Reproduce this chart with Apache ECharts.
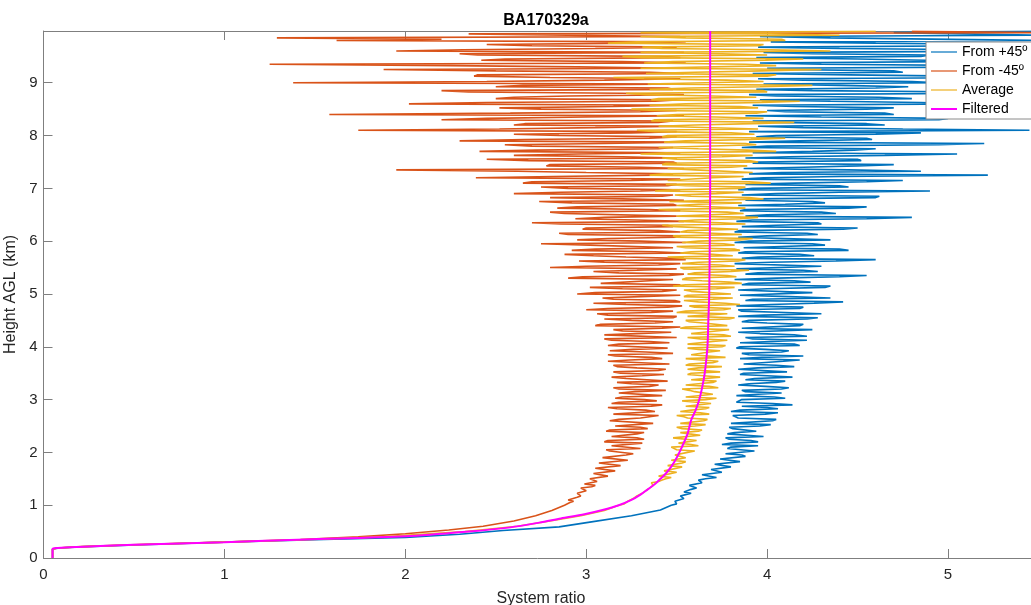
<!DOCTYPE html>
<html>
<head>
<meta charset="utf-8">
<title>BA170329a</title>
<script src="https://cdn.jsdelivr.net/npm/echarts@6/dist/echarts.min.js"></script>
<style>
  html, body { margin: 0; padding: 0; background: #ffffff; }
  #chart { width: 1031px; height: 605px; }
</style>
</head>
<body>
<div id="chart"></div>
<script>
// ---- Profile data: system ratio (x) against height above ground level in km (y) ----

// Near-ground part of each profile, listed with its own heights (km)
const plusLowHeights  = [0, 0.17, 0.19, 0.21, 0.25, 0.30, 0.35, 0.39, 0.45, 0.52, 0.59, 0.68, 0.80, 0.91];
const plusLowRatio    = [0.05, 0.05, 0.09, 0.20, 0.55, 1.00, 1.55, 2.00, 2.30, 2.54, 2.85, 3.02, 3.25, 3.41];

const minusLowHeights = [0, 0.17, 0.19, 0.21, 0.25, 0.30, 0.35, 0.40, 0.46, 0.53, 0.60, 0.70, 0.80, 0.90];
const minusLowRatio   = [0.05, 0.05, 0.08, 0.18, 0.48, 1.00, 1.42, 1.74, 2.00, 2.24, 2.43, 2.60, 2.72, 2.81];

const avgLowHeights   = [0, 0.17, 0.19, 0.21, 0.25, 0.30, 0.35, 0.40, 0.50, 0.60, 0.70, 0.80, 0.90];
const avgLowRatio     = [0.05, 0.05, 0.08, 0.19, 0.51, 1.00, 1.48, 1.87, 2.33, 2.62, 2.80, 2.97, 3.10];

// Range-resolved part above 1 km. Samples come in two interleaved sets:
// set A at 1.000, 1.050, ... 9.950 km and set B at 1.025, 1.075, ... 9.975 km.
const UPPER_START = 1.0;
const UPPER_STEP = 0.05;
const HALF_STEP = 0.025;

const plus45A = [
  3.47, 3.50, 3.49, 3.53, 3.55, 3.54, 3.58, 3.60, 3.58, 3.63,
  3.66, 3.72, 3.65, 3.76, 3.68, 3.80, 3.71, 3.84, 3.73, 3.86,
  3.77, 3.92, 3.80, 3.75, 3.95, 3.79, 3.98, 3.78, 3.94, 3.81,
  3.96, 3.80, 4.03, 3.84, 3.81, 4.06, 3.85, 4.00, 4.14, 3.83,
  3.86, 4.04, 3.95, 3.88, 4.08, 3.99, 3.90, 4.10, 3.93, 4.00,
  3.87, 4.12, 3.95, 4.05, 3.88, 4.18, 3.97, 3.90, 4.08, 3.99,
  3.85, 4.15, 4.02, 3.92, 4.22, 3.96, 4.05, 3.86, 4.18, 4.00,
  3.90, 4.28, 3.98, 4.10, 3.84, 4.20, 4.02, 4.42, 3.92, 4.12,
  3.86, 4.25, 4.00, 4.35, 3.90, 4.15, 4.05, 4.55, 3.95, 4.20,
  3.82, 4.30, 4.02, 4.60, 3.95, 4.18, 3.88, 4.40, 4.08, 4.25,
  3.90, 4.35, 4.00, 4.22, 3.85, 4.50, 4.05, 4.28, 3.92, 4.80,
  4.00, 4.30, 3.88, 4.55, 4.10, 4.25, 3.95, 4.62, 4.05, 4.90,
  3.92, 4.40, 4.15, 4.75, 3.98, 5.22, 4.08, 4.45, 4.20, 4.70,
  3.95, 4.50, 4.12, 5.05, 4.25, 4.60, 4.00, 5.20, 4.18, 4.55,
  4.05, 4.85, 5.45, 4.20, 4.65, 4.02, 4.95, 4.30, 4.70, 4.10,
  4.55, 4.15, 5.10, 4.35, 4.80, 4.05, 5.30, 4.25, 4.60, 4.40,
  4.95, 4.20, 5.50, 4.45, 4.75, 4.10, 5.35, 4.30, 5.00, 4.50,
  4.85, 4.25, 5.50, 4.40, 5.20, 4.60, 5.50, 4.35, 5.50, 4.70
];
const plus45B = [
  3.50, 3.49, 3.54, 3.52, 3.58, 3.55, 3.61, 3.57, 3.64, 3.62,
  3.72, 3.64, 3.75, 3.69, 3.80, 3.71, 3.85, 3.74, 3.88, 3.77,
  3.93, 3.78, 3.95, 3.80, 3.91, 3.77, 3.97, 3.82, 3.94, 3.79,
  4.02, 3.81, 4.05, 3.84, 3.99, 3.80, 4.06, 3.86, 4.03, 3.82,
  4.10, 3.83, 4.08, 3.86, 4.12, 3.84, 4.05, 3.88, 4.14, 3.85,
  4.11, 3.84, 4.15, 3.87, 4.09, 3.85, 4.20, 3.86, 4.12, 3.83,
  4.18, 3.85, 4.22, 3.88, 4.15, 3.84, 4.25, 3.87, 4.20, 3.86,
  4.22, 3.84, 4.30, 3.86, 4.18, 3.83, 4.26, 3.88, 4.35, 3.85,
  4.25, 3.84, 4.32, 3.86, 4.24, 3.82, 4.40, 3.88, 4.28, 3.83,
  4.30, 3.82, 4.38, 3.86, 4.26, 3.84, 4.45, 3.87, 4.32, 3.82,
  4.35, 3.84, 4.28, 3.82, 4.42, 3.86, 4.30, 3.83, 4.55, 3.88,
  4.38, 3.85, 4.45, 3.84, 4.32, 3.88, 4.60, 3.86, 4.40, 3.84,
  4.45, 3.88, 4.55, 3.86, 4.40, 3.90, 4.85, 3.87, 4.50, 3.92,
  4.52, 3.88, 4.65, 3.92, 4.48, 3.86, 4.95, 3.90, 4.58, 3.94,
  4.60, 3.90, 4.75, 3.95, 4.55, 3.92, 5.00, 3.88, 4.65, 4.00,
  4.70, 3.92, 4.85, 3.96, 4.62, 3.90, 5.15, 3.94, 4.78, 3.98,
  4.80, 3.95, 5.05, 3.92, 4.70, 4.00, 5.25, 3.96, 4.88, 3.94,
  4.90, 3.98, 5.20, 3.95, 5.40, 4.02, 5.50, 3.96, 5.50, 5.50
];

const minus45A = [
  2.88, 2.91, 2.90, 2.95, 2.97, 2.94, 3.01, 3.03, 2.99, 3.06,
  3.02, 3.12, 3.04, 3.16, 3.05, 3.19, 3.07, 3.23, 3.09, 3.22,
  3.26, 3.11, 3.30, 3.13, 3.10, 3.32, 3.14, 3.28, 3.11, 3.34,
  3.16, 3.37, 3.13, 3.30, 3.40, 3.15, 3.33, 3.12, 3.42, 3.18,
  3.32, 3.20, 3.42, 3.27, 3.18, 3.35, 3.25, 3.45, 3.22, 3.31,
  3.19, 3.40, 3.28, 3.15, 3.46, 3.24, 3.36, 3.12, 3.33, 3.26,
  3.44, 3.18, 3.35, 3.10, 3.50, 3.28, 3.20, 3.42, 3.05, 3.38,
  3.25, 3.48, 3.12, 3.36, 3.00, 3.45, 3.22, 3.52, 3.15, 3.30,
  2.95, 3.42, 3.20, 3.50, 3.08, 3.35, 2.90, 3.46, 3.18, 3.28,
  2.80, 3.40, 3.10, 3.55, 3.22, 2.88, 3.38, 3.05, 3.48, 2.75,
  3.30, 3.12, 3.52, 2.85, 3.40, 3.00, 3.45, 2.70, 3.28, 3.10,
  3.50, 2.80, 3.35, 2.95, 3.48, 2.74, 3.20, 3.42, 2.60, 3.30,
  2.90, 3.45, 2.65, 3.25, 2.39, 3.38, 3.00, 1.95, 3.30, 2.80,
  3.48, 2.45, 3.20, 2.95, 2.41, 3.40, 2.70, 3.10, 2.30, 3.35,
  2.85, 3.25, 1.74, 3.05, 2.60, 3.40, 2.20, 3.00, 1.58, 3.30,
  2.75, 3.15, 2.02, 3.38, 2.50, 2.90, 3.20, 2.20, 3.45, 2.65,
  1.38, 3.10, 2.80, 2.40, 3.35, 1.88, 2.95, 1.25, 3.20, 2.55,
  3.40, 2.30, 1.95, 3.05, 2.70, 3.30, 1.62, 1.29, 2.90, 5.50
];
const minus45B = [
  2.87, 2.93, 2.91, 2.97, 2.95, 3.00, 2.97, 3.05, 3.00, 3.07,
  3.01, 3.12, 3.03, 3.16, 3.06, 3.20, 3.08, 3.24, 3.10, 3.26,
  3.13, 3.30, 3.14, 3.31, 3.12, 3.28, 3.15, 3.32, 3.13, 3.30,
  3.16, 3.37, 3.18, 3.35, 3.15, 3.38, 3.17, 3.36, 3.14, 3.39,
  3.16, 3.42, 3.18, 3.44, 3.15, 3.40, 3.17, 3.45, 3.14, 3.43,
  3.15, 3.44, 3.17, 3.46, 3.12, 3.42, 3.16, 3.48, 3.13, 3.45,
  3.12, 3.46, 3.14, 3.50, 3.10, 3.47, 3.15, 3.52, 3.08, 3.48,
  3.10, 3.50, 3.06, 3.48, 3.12, 3.53, 3.04, 3.49, 3.09, 3.52,
  3.05, 3.50, 3.02, 3.52, 3.08, 3.48, 2.98, 3.54, 3.04, 3.50,
  3.00, 3.52, 2.96, 3.50, 3.04, 3.54, 2.92, 3.48, 3.02, 3.55,
  2.95, 3.50, 2.90, 3.52, 2.98, 3.48, 2.86, 3.54, 2.94, 3.50,
  2.88, 3.52, 2.84, 3.50, 2.92, 3.54, 2.80, 3.48, 2.86, 3.52,
  2.75, 3.50, 2.70, 3.52, 2.82, 3.48, 2.62, 3.54, 2.78, 3.50,
  2.68, 3.50, 2.60, 3.52, 2.72, 3.48, 2.55, 3.54, 2.66, 3.50,
  2.60, 3.50, 2.52, 3.52, 2.66, 3.48, 2.45, 3.54, 2.58, 3.50,
  2.52, 3.52, 2.45, 3.50, 2.60, 3.54, 2.35, 3.48, 2.50, 3.52,
  2.45, 3.52, 2.38, 3.54, 2.50, 3.50, 2.25, 3.55, 2.42, 3.52,
  2.40, 3.54, 2.32, 3.50, 2.45, 3.55, 2.20, 3.52, 2.35, 4.80
];

const averageA = [
  3.18, 3.21, 3.24, 3.27, 3.29, 3.31, 3.34, 3.36, 3.38, 3.40,
  3.44, 3.40, 3.47, 3.43, 3.50, 3.45, 3.53, 3.47, 3.55, 3.49,
  3.56, 3.50, 3.47, 3.58, 3.52, 3.60, 3.49, 3.57, 3.62, 3.53,
  3.60, 3.52, 3.65, 3.56, 3.50, 3.63, 3.58, 3.68, 3.54, 3.61,
  3.66, 3.55, 3.70, 3.60, 3.53, 3.68, 3.62, 3.72, 3.57, 3.65,
  3.58, 3.74, 3.62, 3.55, 3.70, 3.64, 3.77, 3.58, 3.68, 3.62,
  3.75, 3.56, 3.70, 3.63, 3.80, 3.58, 3.72, 3.52, 3.78, 3.65,
  3.55, 3.82, 3.66, 3.50, 3.76, 3.60, 3.85, 3.62, 3.70, 3.54,
  3.80, 3.58, 3.72, 3.48, 3.86, 3.64, 3.55, 3.78, 3.60, 3.90,
  3.52, 3.74, 3.62, 3.88, 3.45, 3.70, 3.58, 3.82, 3.50, 3.76,
  3.62, 3.92, 3.48, 3.70, 3.56, 3.85, 3.42, 3.74, 3.60, 3.95,
  3.50, 3.78, 3.40, 3.88, 3.62, 3.46, 3.98, 3.58, 3.72, 3.38,
  3.85, 3.55, 4.02, 3.45, 3.70, 3.35, 3.92, 3.60, 3.80, 3.42,
  3.95, 3.50, 3.75, 3.30, 4.05, 3.62, 3.40, 3.88, 3.55, 4.10,
  3.45, 3.80, 3.28, 3.95, 3.60, 4.15, 3.38, 3.72, 3.50, 4.00,
  3.25, 3.85, 3.55, 4.18, 3.40, 3.70, 3.22, 3.98, 3.58, 4.25,
  3.35, 3.78, 3.15, 4.05, 3.60, 4.30, 3.30, 3.88, 3.48, 4.20,
  3.20, 3.75, 4.35, 3.42, 3.95, 3.12, 4.10, 3.55, 4.40, 3.30
];
const averageB = [
  3.21, 3.23, 3.26, 3.28, 3.31, 3.33, 3.35, 3.37, 3.36, 3.42,
  3.47, 3.40, 3.50, 3.44, 3.53, 3.46, 3.55, 3.48, 3.56, 3.50,
  3.60, 3.49, 3.62, 3.51, 3.61, 3.48, 3.63, 3.52, 3.64, 3.50,
  3.66, 3.53, 3.67, 3.54, 3.68, 3.52, 3.66, 3.55, 3.69, 3.53,
  3.72, 3.56, 3.71, 3.57, 3.73, 3.55, 3.70, 3.58, 3.74, 3.56,
  3.74, 3.56, 3.75, 3.57, 3.73, 3.55, 3.76, 3.58, 3.74, 3.56,
  3.77, 3.57, 3.78, 3.56, 3.76, 3.58, 3.79, 3.55, 3.77, 3.57,
  3.79, 3.56, 3.78, 3.55, 3.80, 3.57, 3.77, 3.54, 3.81, 3.56,
  3.80, 3.54, 3.82, 3.55, 3.79, 3.53, 3.83, 3.56, 3.80, 3.54,
  3.82, 3.53, 3.84, 3.54, 3.81, 3.52, 3.85, 3.55, 3.82, 3.53,
  3.85, 3.50, 3.86, 3.52, 3.84, 3.49, 3.88, 3.51, 3.85, 3.50,
  3.87, 3.48, 3.88, 3.50, 3.86, 3.47, 3.90, 3.49, 3.87, 3.48,
  3.88, 3.44, 3.90, 3.46, 3.87, 3.43, 3.92, 3.45, 3.89, 3.44,
  3.90, 3.42, 3.92, 3.44, 3.89, 3.40, 3.94, 3.43, 3.91, 3.42,
  3.93, 3.38, 3.95, 3.40, 3.92, 3.36, 3.98, 3.39, 3.94, 3.37,
  3.95, 3.35, 3.97, 3.36, 3.94, 3.33, 4.00, 3.35, 3.96, 3.34,
  3.98, 3.32, 4.00, 3.33, 3.97, 3.30, 4.05, 3.32, 3.99, 3.31,
  4.00, 3.30, 4.02, 3.31, 3.98, 3.28, 4.08, 3.30, 4.02, 4.60
];

// Smoothed (filtered) profile
const filteredHeights = [0, 0.17, 0.19, 0.21, 0.25, 0.30, 0.35, 0.41, 0.50, 0.58, 0.67, 0.75, 0.83, 0.91,
  1.00, 1.10, 1.20, 1.30, 1.40, 1.50, 1.60, 1.73, 1.90, 2.11, 2.35, 2.61, 2.80, 3.00, 3.25, 3.50,
  4.00, 4.50, 5.00, 6.00, 7.00, 8.00, 9.00, 9.98];
const filteredRatio = [0.05, 0.05, 0.08, 0.19, 0.50, 1.00, 1.45, 2.00, 2.35, 2.58, 2.74, 2.86, 2.99, 3.09,
  3.18, 3.25, 3.30, 3.34, 3.38, 3.41, 3.44, 3.47, 3.50, 3.53, 3.56, 3.58, 3.605, 3.625, 3.642, 3.655,
  3.67, 3.675, 3.68, 3.683, 3.685, 3.685, 3.685, 3.685];

const xTicks = [0, 1, 2, 3, 4, 5];
const yTicks = [0, 1, 2, 3, 4, 5, 6, 7, 8, 9];

// ---- Build [ratio, height] pairs ----
function pairs(heights, ratios) {
  return ratios.map((r, i) => [r, heights[i]]);
}
// merge the two interleaved sample sets in height order
function upperPairs(setA, setB) {
  const out = [];
  for (let i = 0; i < setA.length; i++) {
    const h = UPPER_START + i * UPPER_STEP;
    out.push([setA[i], +h.toFixed(3)]);
    out.push([setB[i], +(h + HALF_STEP).toFixed(3)]);
  }
  return out;
}
const plusData = pairs(plusLowHeights, plusLowRatio).concat(upperPairs(plus45A, plus45B));
const minusData = pairs(minusLowHeights, minusLowRatio).concat(upperPairs(minus45A, minus45B));
const avgData = pairs(avgLowHeights, avgLowRatio).concat(upperPairs(averageA, averageB));
const filteredData = pairs(filteredHeights, filteredRatio);

const FONT = '"Liberation Sans", Arial, Helvetica, sans-serif';
const AXIS_COLOR = '#7f7f7f';
const TEXT_COLOR = '#262626';

const chart = echarts.init(document.getElementById('chart'), null, { renderer: 'canvas' });

const xLabel = v => xTicks.includes(v) ? String(v) : '';
const yLabel = v => yTicks.includes(v) ? String(v) : '';

// thin horizontal bar used as the legend key, one per line weight
const keyThin = 'path://M0,0 H26 V1.2 H0 Z';
const keyThick = 'path://M0,0 H26 V2 H0 Z';

chart.setOption({
  animation: false,
  backgroundColor: '#ffffff',
  textStyle: { fontFamily: FONT },
  title: {
    text: 'BA170329a',
    left: 541,
    top: 8,
    textAlign: 'center',
    textStyle: { fontFamily: FONT, fontSize: 16, fontWeight: 'bold', color: '#000' }
  },
  grid: { left: 43.5, right: -7.5, top: 31, bottom: 47, outerBoundsMode: 'none', containLabel: false },
  legend: {
    orient: 'vertical',
    left: 926,
    top: 42,
    padding: [3, 90, 3, 5],
    itemWidth: 26,
    itemHeight: 14,
    itemGap: 5,
    backgroundColor: '#ffffff',
    borderColor: '#8a8a8a',
    borderWidth: 1,
    textStyle: { fontFamily: FONT, fontSize: 14, color: '#000' },
    data: [
      { name: 'From +45º', icon: keyThin },
      { name: 'From -45º', icon: keyThin },
      { name: 'Average', icon: keyThin },
      { name: 'Filtered', icon: keyThick }
    ]
  },
  xAxis: [
    {
      type: 'value', min: 0, max: 5.5, interval: 1,
      name: 'System ratio', nameLocation: 'middle', nameGap: 33,
      nameTextStyle: { fontFamily: FONT, fontSize: 16, color: TEXT_COLOR },
      axisLine: { show: true, onZero: false, lineStyle: { color: AXIS_COLOR, width: 1 } },
      axisTick: { show: true, inside: true, length: 9, lineStyle: { color: AXIS_COLOR } },
      axisLabel: { margin: 9, fontFamily: FONT, fontSize: 15, color: TEXT_COLOR, formatter: xLabel },
      splitLine: { show: false }
    },
    {
      type: 'value', min: 0, max: 5.5, interval: 1, position: 'top',
      axisLine: { show: true, onZero: false, lineStyle: { color: AXIS_COLOR, width: 1 } },
      axisTick: { show: true, inside: true, length: 9, lineStyle: { color: AXIS_COLOR } },
      axisLabel: { show: false },
      splitLine: { show: false }
    }
  ],
  yAxis: [
    {
      type: 'value', min: 0, max: 9.98, interval: 1,
      name: 'Height AGL (km)', nameLocation: 'middle', nameGap: 20, nameRotate: 90,
      nameTextStyle: { fontFamily: FONT, fontSize: 16, color: TEXT_COLOR },
      axisLine: { show: true, onZero: false, lineStyle: { color: AXIS_COLOR, width: 1 } },
      axisTick: { show: true, inside: true, length: 9, lineStyle: { color: AXIS_COLOR } },
      axisLabel: { margin: 6, fontFamily: FONT, fontSize: 15, color: TEXT_COLOR, formatter: yLabel },
      splitLine: { show: false }
    }
  ],
  series: [
    {
      name: 'From +45º', type: 'line', data: plusData, symbol: 'none',
      lineStyle: { color: '#0072BD', width: 1.6 }, itemStyle: { color: '#0072BD' }
    },
    {
      name: 'From -45º', type: 'line', data: minusData, symbol: 'none',
      lineStyle: { color: '#D95319', width: 1.6 }, itemStyle: { color: '#D95319' }
    },
    {
      name: 'Average', type: 'line', data: avgData, symbol: 'none',
      lineStyle: { color: '#EDB120', width: 1.6 }, itemStyle: { color: '#EDB120' }
    },
    {
      name: 'Filtered', type: 'line', data: filteredData, symbol: 'none', smooth: 0.3,
      lineStyle: { color: '#FF00FF', width: 2 }, itemStyle: { color: '#FF00FF' }
    }
  ]
});
</script>
</body>
</html>
